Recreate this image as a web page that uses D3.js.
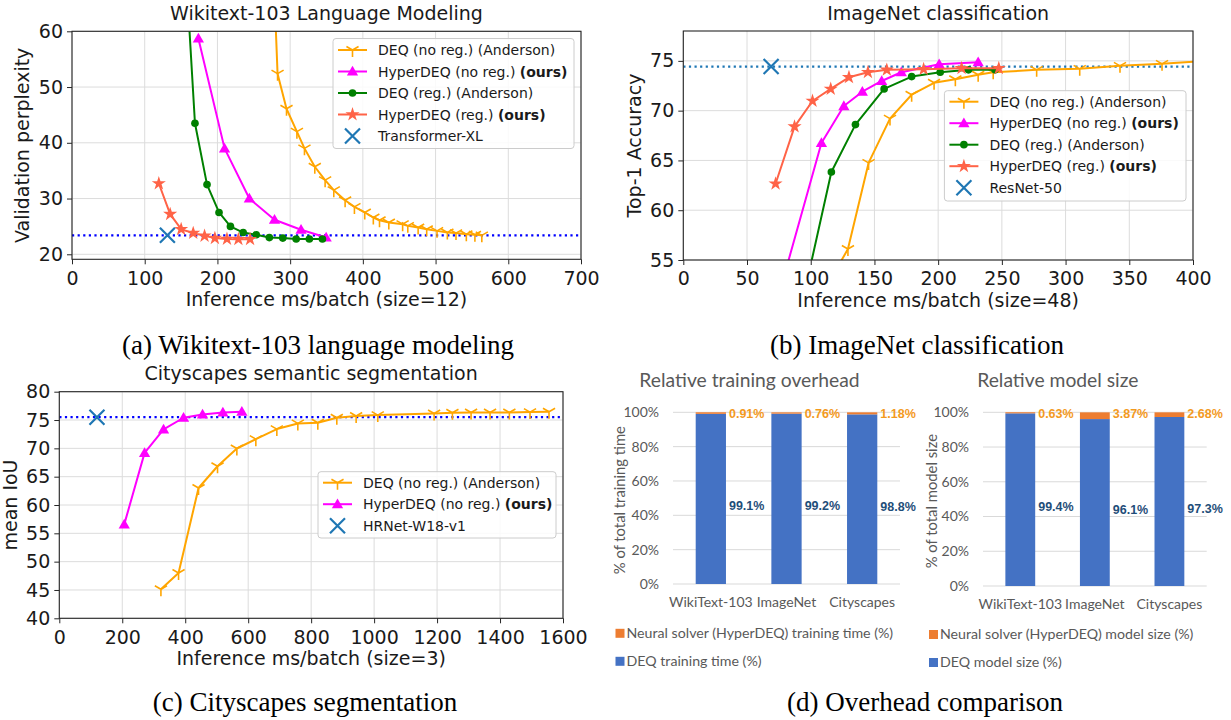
<!DOCTYPE html>
<html>
<head>
<meta charset="utf-8">
<script src="https://cdn.jsdelivr.net/npm/d3@7"></script>
<style>
  body { margin: 0; background: #fff; }
  svg { display: block; }
</style>
</head>
<body>
<svg id="fig" width="1231" height="720"></svg>
<script>
// ---------------- data: [inference ms/batch, metric] ----------------
// (a) Wikitext-103, validation perplexity
const wikiDeqNoReg = [[278,68],[282.7,52.4],[295,46.1],[309.3,42.0],[319.7,39.0],[333.9,35.7],[348.1,33.3],[360,31.5],[375.6,29.7],[388.4,28.5],[402.6,27.5],[414.4,26.6],[422.9,26.1],[435.7,25.7],[454.7,25.4],[461.8,25.1],[476,24.8],[487.8,24.5],[502,24.2],[516.2,23.9],[528.1,23.8],[542.3,23.6],[554.1,23.5],[563.6,23.4]];
const wikiHyperNoReg = [[173.8,58.7],[209.8,39.0],[243.9,30.0],[278.5,26.2],[315,24.4],[349.5,23.0]];
const wikiDeqReg = [[158,68],[169.1,43.5],[185.7,32.5],[202.2,27.5],[217.9,25.0],[235.4,23.9],[253.4,23.5],[271.4,23.0],[289.9,22.9],[308.3,22.75],[326.4,22.75],[344.4,22.75]];
const wikiHyperReg = [[119.4,32.7],[135,27.2],[150.1,24.5],[166.7,23.8],[182.3,23.3],[196.5,22.9],[213.1,22.75],[228.8,22.7],[244.9,22.7]];
const transformerXL = [131.2, 23.4];

// (b) ImageNet, top-1 accuracy
const imgDeqNoReg = [[110,51.8],[129.2,56.1],[145.4,64.75],[162.2,69.2],[179.2,71.6],[196.8,72.8],[213.5,73.15],[231.4,73.6],[243.2,73.85],[277.3,74.1],[311.1,74.2],[342.7,74.5],[375.7,74.7],[410,75.0]];
const imgHyperNoReg = [[75,51.5],[108.4,66.76],[126,70.46],[140.5,71.9],[155.7,72.98],[171.1,73.86],[200.8,74.66],[231.4,74.87]];
const imgDeqReg = [[97,52.8],[116.2,63.84],[135.1,68.6],[157.6,72.18],[179.2,73.42],[201.6,73.86],[223.8,74.1],[244.6,74.1]];
const imgHyperReg = [[72.4,62.66],[87.3,68.4],[101.4,70.97],[115.7,72.18],[130,73.35],[144.9,73.86],[159.7,74.1],[188.6,74.16],[218.4,74.26],[247.6,74.26]];
const resnet50 = [68.9, 74.43];

// (c) Cityscapes, mean IoU
const cityDeqNoReg = [[322.8,45.13],[378.8,48.0],[442.3,63.0],[502.6,66.84],[564,69.97],[624.3,71.62],[691,73.4],[757.7,74.4],[821.2,74.51],[881.5,75.4],[942.9,75.7],[1011.6,75.87],[1190.5,76.16],[1248.7,76.28],[1308,76.34],[1368.3,76.34],[1429.6,76.34],[1495.2,76.4],[1555.6,76.46]];
const cityHyperNoReg = [[206.3,56.58],[270.9,69.2],[331.2,73.33],[394.7,75.4],[455,75.99],[519.6,76.34],[579.9,76.46]];
const hrnet = [119.6, 75.5];

// tick values
const wikiXTicks = [0,100,200,300,400,500,600,700];
const wikiYTicks = [20,30,40,50,60];
const imgXTicks = [0,50,100,150,200,250,300,350,400];
const imgYTicks = [55,60,65,70,75];
const cityXTicks = [0,200,400,600,800,1000,1200,1400,1600];
const cityYTicks = [40,45,50,55,60,65,70,75,80];

// (d) overhead comparison, percentages
const datasets = ["WikiText-103", "ImageNet", "Cityscapes"];
const trainDeq = [99.1, 99.2, 98.8];
const trainSolver = [0.91, 0.76, 1.18];
const sizeDeq = [99.4, 96.1, 97.3];
const sizeSolver = [0.63, 3.87, 2.68];
const pctTicks = [0, 20, 40, 60, 80, 100];

// ---------------- drawing ----------------
const svg = d3.select("#fig");
const defs = svg.append("defs");
const SANS = "'DejaVu Sans', sans-serif";
const OFFICE = "Lato, 'Open Sans', sans-serif";
const SERIF = "'Liberation Serif', 'Times New Roman', serif";
const AX_FONT = 19;

const C = {
  orange: "#FFA500", magenta: "#FF00FF", green: "#008000", tomato: "#FF6347",
  tab: "#1f77b4", blue: "#0000FF"
};

function drawMarker(g, kind, color) {
  if (kind === "tri") {
    const r = 7;
    g.append("path")
      .attr("d", `M0,0L0,${r}M0,0L${-r*0.866},${-r*0.5}M0,0L${r*0.866},${-r*0.5}`)
      .attr("stroke", color).attr("stroke-width", 1.6).attr("fill", "none");
  } else if (kind === "x") {
    const r = 7.5;
    g.append("path")
      .attr("d", `M${-r},${-r}L${r},${r}M${-r},${r}L${r},${-r}`)
      .attr("stroke", color).attr("stroke-width", 2.2).attr("fill", "none");
  } else if (kind === "triangle") {
    g.append("path").attr("d", d3.symbol(d3.symbolTriangle, 55)()).attr("fill", color)
      .attr("transform", "translate(0,0.8)");
  } else if (kind === "circle") {
    g.append("path").attr("d", d3.symbol(d3.symbolCircle, 46)()).attr("fill", color);
  } else if (kind === "star") {
    g.append("path").attr("d", d3.symbol(d3.symbolStar, 62)()).attr("fill", color);
  }
}

function lineChart(o) {
  const g = svg.append("g");
  const x = d3.scaleLinear().domain(o.xDomain).range([o.left, o.right]);
  const y = d3.scaleLinear().domain(o.yDomain).range([o.bottom, o.top]);
  const clipId = "clip-" + o.id;
  defs.append("clipPath").attr("id", clipId).append("rect")
    .attr("x", o.left).attr("y", o.top)
    .attr("width", o.right - o.left).attr("height", o.bottom - o.top);

  // grid
  const grid = g.append("g").attr("stroke", "#dcdcdc").attr("stroke-width", 1);
  grid.selectAll("line.gx").data(o.xTicks).join("line")
    .attr("x1", d => x(d)).attr("x2", d => x(d)).attr("y1", o.top).attr("y2", o.bottom);
  grid.selectAll("line.gy").data(o.yTicks).join("line")
    .attr("y1", d => y(d)).attr("y2", d => y(d)).attr("x1", o.left).attr("x2", o.right);

  const plot = g.append("g").attr("clip-path", `url(#${clipId})`);

  // reference line for the baseline model
  plot.append("line")
    .attr("x1", o.left).attr("x2", o.right)
    .attr("y1", y(o.ref.point[1])).attr("y2", y(o.ref.point[1]))
    .attr("stroke", o.ref.lineColor).attr("stroke-width", 2.2)
    .attr("stroke-dasharray", "2.2,3.4");

  const line = d3.line().x(d => x(d[0])).y(d => y(d[1]));
  o.series.forEach(s => {
    plot.append("path").datum(s.data).attr("d", line)
      .attr("fill", "none").attr("stroke", s.color).attr("stroke-width", 2)
      .attr("stroke-linejoin", "round");
    plot.selectAll(null).data(s.data).join("g")
      .attr("transform", d => `translate(${x(d[0])},${y(d[1])})`)
      .each(function () { drawMarker(d3.select(this), s.marker, s.color); });
  });

  const refMark = plot.append("g")
    .attr("transform", `translate(${x(o.ref.point[0])},${y(o.ref.point[1])})`);
  drawMarker(refMark, "x", C.tab);

  // frame
  g.append("rect").attr("x", o.left).attr("y", o.top)
    .attr("width", o.right - o.left).attr("height", o.bottom - o.top)
    .attr("fill", "none").attr("stroke", "#262626").attr("stroke-width", 1.1);

  // axes
  const xa = g.append("g").attr("transform", `translate(0,${o.bottom})`)
    .call(d3.axisBottom(x).tickValues(o.xTicks).tickFormat(d3.format("d")).tickSize(5).tickPadding(7));
  const ya = g.append("g").attr("transform", `translate(${o.left},0)`)
    .call(d3.axisLeft(y).tickValues(o.yTicks).tickFormat(d3.format("d")).tickSize(5).tickPadding(4));
  [xa, ya].forEach(a => {
    a.select(".domain").remove();
    a.selectAll("line").attr("stroke", "#262626");
    a.selectAll("text").attr("font-family", SANS).attr("font-size", AX_FONT).attr("fill", "#1a1a1a");
  });

  // title and axis labels
  g.append("text").attr("x", (o.left + o.right) / 2).attr("y", o.top - 11.5)
    .attr("text-anchor", "middle").attr("font-family", SANS).attr("font-size", AX_FONT)
    .attr("fill", "#1a1a1a").text(o.title);
  g.append("text").attr("x", (o.left + o.right) / 2).attr("y", o.bottom + 47)
    .attr("text-anchor", "middle").attr("font-family", SANS).attr("font-size", AX_FONT)
    .attr("fill", "#1a1a1a").text(o.xLabel);
  g.append("text")
    .attr("transform", `translate(${o.yLabelX},${(o.top + o.bottom) / 2}) rotate(-90)`)
    .attr("text-anchor", "middle").attr("dy", "0.35em").attr("font-family", SANS)
    .attr("font-size", AX_FONT).attr("fill", "#1a1a1a").text(o.yLabel);

  // legend
  const L = o.legend;
  const lg = g.append("g");
  lg.append("rect").attr("x", L.x).attr("y", L.y).attr("width", L.w).attr("height", L.h)
    .attr("rx", 3).attr("fill", "#fff").attr("fill-opacity", 0.85)
    .attr("stroke", "#cccccc").attr("stroke-width", 1);
  L.entries.forEach((e, i) => {
    const cy = L.y + L.first + i * L.step;
    const row = lg.append("g");
    if (e.line) {
      row.append("line").attr("x1", L.x + 5).attr("x2", L.x + 34).attr("y1", cy).attr("y2", cy)
        .attr("stroke", e.color).attr("stroke-width", 2);
    }
    drawMarker(row.append("g").attr("transform", `translate(${L.x + 19.5},${cy})`), e.marker, e.color);
    const t = row.append("text").attr("x", L.x + 45).attr("y", cy).attr("dy", "0.36em")
      .attr("font-family", SANS).attr("font-size", 14).attr("fill", "#1a1a1a");
    t.append("tspan").text(e.label);
    if (e.bold) t.append("tspan").attr("font-weight", "bold").text(e.bold);
  });
}

const legendFull = [
  { label: "DEQ (no reg.) (Anderson)", color: C.orange, marker: "tri", line: true },
  { label: "HyperDEQ (no reg.) ", bold: "(ours)", color: C.magenta, marker: "triangle", line: true },
  { label: "DEQ (reg.) (Anderson)", color: C.green, marker: "circle", line: true },
  { label: "HyperDEQ (reg.) ", bold: "(ours)", color: C.tomato, marker: "star", line: true }
];

// (a)
lineChart({
  id: "wiki", left: 72, right: 581, top: 31.3, bottom: 259.3,
  xDomain: [0, 700], yDomain: [19.1, 60], xTicks: wikiXTicks, yTicks: wikiYTicks,
  title: "Wikitext-103 Language Modeling", xLabel: "Inference ms/batch (size=12)",
  yLabel: "Validation perplexity", yLabelX: 22,
  series: [
    { data: wikiDeqNoReg, color: C.orange, marker: "tri" },
    { data: wikiHyperNoReg, color: C.magenta, marker: "triangle" },
    { data: wikiDeqReg, color: C.green, marker: "circle" },
    { data: wikiHyperReg, color: C.tomato, marker: "star" }
  ],
  ref: { point: transformerXL, lineColor: C.blue },
  legend: { x: 333, y: 38.5, w: 241, h: 110, first: 11.5, step: 21.5,
    entries: legendFull.concat([{ label: "Transformer-XL", color: C.tab, marker: "x" }]) }
});

// (b)
lineChart({
  id: "img", left: 683.3, right: 1193, top: 31, bottom: 260,
  xDomain: [0, 400], yDomain: [55, 78], xTicks: imgXTicks, yTicks: imgYTicks,
  title: "ImageNet classification", xLabel: "Inference ms/batch (size=48)",
  yLabel: "Top-1 Accuracy", yLabelX: 634,
  series: [
    { data: imgDeqNoReg, color: C.orange, marker: "tri" },
    { data: imgHyperNoReg, color: C.magenta, marker: "triangle" },
    { data: imgDeqReg, color: C.green, marker: "circle" },
    { data: imgHyperReg, color: C.tomato, marker: "star" }
  ],
  ref: { point: resnet50, lineColor: C.tab },
  legend: { x: 944.4, y: 90.7, w: 241.6, h: 110.3, first: 11, step: 21.5,
    entries: legendFull.concat([{ label: "ResNet-50", color: C.tab, marker: "x" }]) }
});

// (c)
lineChart({
  id: "city", left: 59.3, right: 563, top: 391.7, bottom: 618.3,
  xDomain: [0, 1600], yDomain: [40, 80], xTicks: cityXTicks, yTicks: cityYTicks,
  title: "Cityscapes semantic segmentation", xLabel: "Inference ms/batch (size=3)",
  yLabel: "mean IoU", yLabelX: 10,
  series: [
    { data: cityDeqNoReg, color: C.orange, marker: "tri" },
    { data: cityHyperNoReg, color: C.magenta, marker: "triangle" }
  ],
  ref: { point: hrnet, lineColor: C.blue },
  legend: { x: 318, y: 471.7, w: 238, h: 66.3, first: 11, step: 21.5,
    entries: [legendFull[0], legendFull[1], { label: "HRNet-W18-v1", color: C.tab, marker: "x" }] }
});

// (d) stacked percentage bars
function barChart(o) {
  const g = svg.append("g");
  const x = d3.scaleBand().domain(datasets).range([o.left, o.right]).paddingInner(0.6).paddingOuter(0.3);
  const y = d3.scaleLinear().domain([0, 100]).range([o.bottom, o.top]);
  const grey = "#595959";

  g.selectAll("line.grid").data(pctTicks).join("line")
    .attr("x1", o.left).attr("x2", o.right)
    .attr("y1", d => y(d)).attr("y2", d => y(d))
    .attr("stroke", "#d9d9d9").attr("stroke-width", 1);
  g.selectAll("text.ytick").data(pctTicks).join("text")
    .attr("x", o.left - 14).attr("y", d => y(d)).attr("dy", "0.35em")
    .attr("text-anchor", "end").attr("font-family", OFFICE).attr("font-size", 14)
    .attr("fill", grey).text(d => d + "%");

  const rows = datasets.map((name, i) => ({ name, deq: o.deq[i], solver: o.solver[i] }));
  g.selectAll("rect.deq").data(rows).join("rect")
    .attr("x", d => x(d.name)).attr("width", x.bandwidth())
    .attr("y", d => y(d.deq)).attr("height", d => y(0) - y(d.deq))
    .attr("fill", "#4472C4");
  g.selectAll("rect.solver").data(rows).join("rect")
    .attr("x", d => x(d.name)).attr("width", x.bandwidth())
    .attr("y", d => y(d.deq + d.solver)).attr("height", d => y(d.deq) - y(d.deq + d.solver))
    .attr("fill", "#ED7D31");

  g.selectAll("text.vdeq").data(rows).join("text")
    .attr("x", d => x(d.name) + x.bandwidth() + 3).attr("y", d => y(d.deq / 2) + 7)
    .attr("dy", "0.35em").attr("font-family", "'Liberation Sans', Arial, sans-serif")
    .attr("font-weight", "bold").attr("font-size", 12.5).attr("fill", "#1F4E79")
    .text(d => d.deq.toFixed(1) + "%");
  g.selectAll("text.vsol").data(rows).join("text")
    .attr("x", d => x(d.name) + x.bandwidth() + 3).attr("y", d => y(d.deq + d.solver) + 1)
    .attr("dy", "0.35em").attr("font-family", "'Liberation Sans', Arial, sans-serif")
    .attr("font-weight", "bold").attr("font-size", 12.5).attr("fill", "#F39A1E")
    .text(d => d.solver.toFixed(2) + "%");

  g.selectAll("text.xcat").data(datasets).join("text")
    .attr("x", d => x(d) + x.bandwidth() / 2).attr("y", o.bottom + 23)
    .attr("text-anchor", "middle").attr("font-family", OFFICE).attr("font-size", 14)
    .attr("fill", grey).text(d => d);

  g.append("text").attr("x", (o.left + o.right) / 2 + o.titleShift).attr("y", o.top - 25)
    .attr("text-anchor", "middle").attr("font-family", OFFICE).attr("font-size", 19.3)
    .attr("fill", grey).text(o.title);
  g.append("text")
    .attr("transform", `translate(${o.yTitleX},${(o.top + o.bottom) / 2 + 2}) rotate(-90)`)
    .attr("text-anchor", "middle").attr("dy", "0.35em").attr("font-family", OFFICE)
    .attr("font-size", 14.8).attr("fill", grey).text(o.yTitle);

  const keys = [
    { label: o.keys[0], color: "#ED7D31" },
    { label: o.keys[1], color: "#4472C4" }
  ];
  keys.forEach((k, i) => {
    const cy = o.keyY + i * 28;
    g.append("rect").attr("x", o.keyX).attr("y", cy - 4.5).attr("width", 9).attr("height", 9).attr("fill", k.color);
    g.append("text").attr("x", o.keyX + 11).attr("y", cy).attr("dy", "0.35em")
      .attr("font-family", OFFICE).attr("font-size", 14.2).attr("fill", grey).text(k.label);
  });
}

barChart({
  left: 673, right: 900, top: 412.3, bottom: 584,
  deq: trainDeq, solver: trainSolver,
  title: "Relative training overhead", titleShift: -37, yTitle: "% of total training time", yTitleX: 619.5,
  keyX: 615.5, keyY: 633.3,
  keys: ["Neural solver (HyperDEQ) training time (%)", "DEQ training time (%)"]
});
barChart({
  left: 983, right: 1206.7, top: 412.3, bottom: 586,
  deq: sizeDeq, solver: sizeSolver,
  title: "Relative model size", titleShift: -37, yTitle: "% of total model size", yTitleX: 931.7,
  keyX: 929, keyY: 634.5,
  keys: ["Neural solver (HyperDEQ) model size (%)", "DEQ model size (%)"]
});

// sub-figure captions
const captions = [
  { text: "(a) Wikitext-103 language modeling", x: 318, y: 354 },
  { text: "(b) ImageNet classification", x: 917, y: 354 },
  { text: "(c) Cityscapes segmentation", x: 305, y: 711 },
  { text: "(d) Overhead comparison", x: 925, y: 711 }
];
svg.selectAll("text.caption").data(captions).join("text")
  .attr("x", d => d.x).attr("y", d => d.y).attr("text-anchor", "middle")
  .attr("font-family", SERIF).attr("font-size", 27).attr("fill", "#000")
  .text(d => d.text);
</script>
</body>
</html>
